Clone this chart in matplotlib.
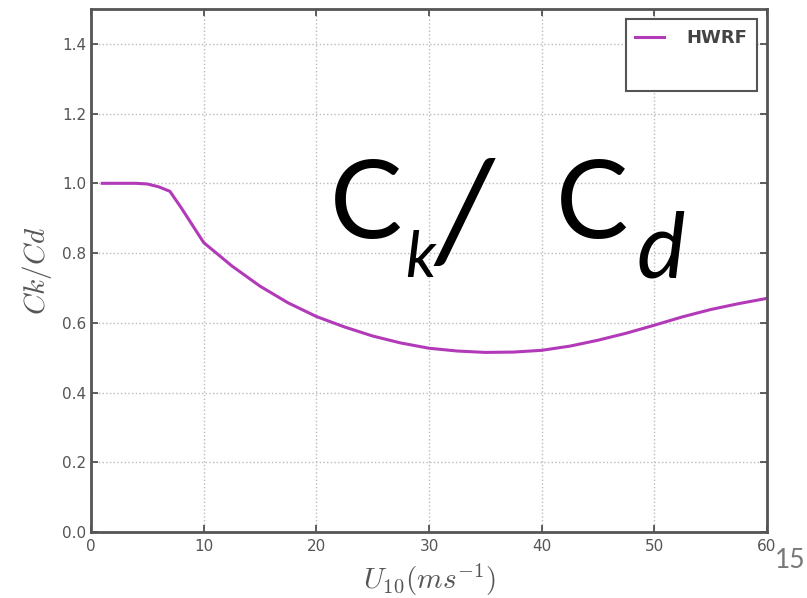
import numpy as np
import matplotlib.pyplot as plt

plt.rcParams['mathtext.fontset'] = 'cm'

# HWRF Ck/Cd vs 10 m wind speed
u10 = [1, 2, 3, 4, 5, 6, 7, 8, 9, 10, 12.5, 15, 17.5, 20, 22.5, 25, 27.5, 30,
       32.5, 35, 37.5, 40, 42.5, 45, 47.5, 50, 52.5, 55, 57.5, 60]
ck_cd = [1.0, 1.0, 1.0, 1.0, 0.998, 0.99, 0.977, 0.93, 0.88, 0.83, 0.763, 0.705,
         0.657, 0.618, 0.588, 0.562, 0.542, 0.527, 0.519, 0.515, 0.516, 0.521,
         0.533, 0.55, 0.57, 0.593, 0.617, 0.638, 0.655, 0.67]
xticks = [0, 10, 20, 30, 40, 50, 60]
yticks = [0.0, 0.2, 0.4, 0.6, 0.8, 1.0, 1.2, 1.4]

fig = plt.figure(figsize=(8.07, 5.98), dpi=100)
ax = fig.add_axes([0.1128, 0.1104, 0.8376, 0.8746])

ax.plot(u10, ck_cd, color='#b23ab8', lw=2.2, label='HWRF')
ax.plot([], [], color='none', label=' ')

ax.set_xlim(0, 60)
ax.set_ylim(0, 1.5)
ax.set_xticks(xticks)
ax.set_yticks(yticks)
ax.set_yticklabels(['%.1f' % v for v in yticks])
ax.tick_params(direction='in', top=True, right=True, length=5, width=1.2,
               labelsize=11, colors='#444444', labelcolor='#555555')
ax.tick_params(axis='x', pad=5)
for s in ax.spines.values():
    s.set_linewidth(2)
    s.set_color('#555555')
ax.grid(True, ls=':', color='#bbbbbb', lw=1)

ax.set_xlabel(r'$U_{10}(ms^{-1})$', fontsize=21, color='#555555', labelpad=6)
ax.set_ylabel(r'$Ck/Cd$', fontsize=21, color='#555555', labelpad=6)

leg = ax.legend(loc='upper right', fontsize=13, handlelength=1.6, labelspacing=0.9,
                borderpad=0.55, handletextpad=1.2, borderaxespad=0,
                fancybox=False, framealpha=1, edgecolor='#555555',
                bbox_to_anchor=(0.985, 0.981))
leg.get_frame().set_linewidth(1.5)
for t in leg.get_texts():
    t.set_color('#444444')
    t.set_fontweight('bold')

# big overlay label
big = dict(family='Lato', color='black', va='baseline')
fig.text(330 / 807, 1 - 238 / 598, 'C', fontsize=78, **big)
fig.text(405 / 807, 1 - 277 / 598, 'k', fontsize=46, style='italic', **big)
fig.text(434 / 807, 1 - 260 / 598, '/', fontsize=100, style='italic', **big)
fig.text(556 / 807, 1 - 238 / 598, 'C', fontsize=78, **big)
fig.text(636 / 807, 1 - 277 / 598, 'd', fontsize=66, style='italic', **big)

fig.text(805 / 807, 1 - 568 / 598, '15', fontsize=19, color='#777777',
         family='Lato', va='baseline', ha='right')

fig.savefig('out.png', dpi=100)
